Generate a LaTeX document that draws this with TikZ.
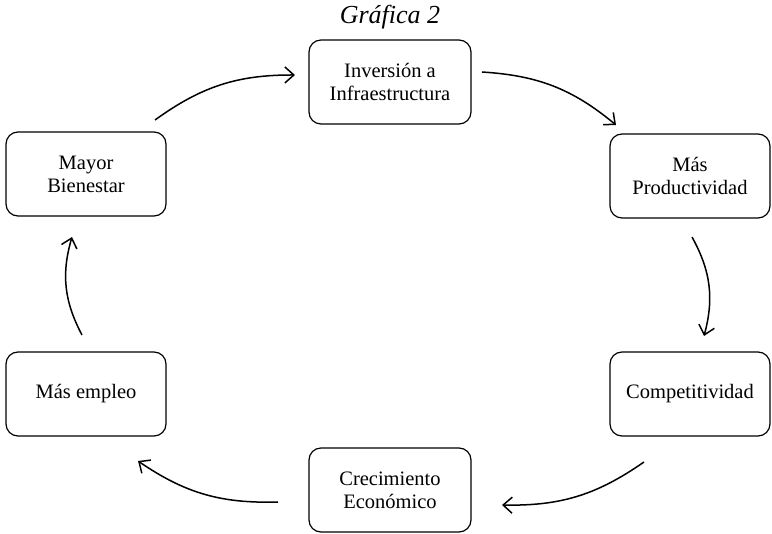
\documentclass[tikz,border=0pt]{standalone}
\usepackage{fontspec}
\setmainfont{Liberation Serif}
\usetikzlibrary{arrows.meta}
\begin{document}
\begin{tikzpicture}[x=1pt,y=-1pt,
  box/.style={draw,line width=1.2pt,rounded corners=12pt,minimum width=160pt,minimum height=84pt,align=center,inner sep=2pt,font=\fontsize{20.5}{23}\selectfont},
  conn/.style={line width=1.5pt,-{Straight Barb[length=9pt,width=16pt,line width=1.5pt]}}]
\useasboundingbox (0,0) rectangle (772,534);
\node[font=\fontsize{26}{28}\selectfont\itshape] (title) at (390,17) {Gráfica 2};
\node[box,minimum width=162pt] (inv) at (390,82) {Inversión a\\Infraestructura};
\node[box] (prod) at (690,176) {Más\\Productividad};
\node[box] (comp) at (690,394) {Competitividad};
\node[box,minimum width=162pt] (crec) at (390,490) {Crecimiento\\Económico};
\node[box] (emp) at (86,394) {Más empleo};
\node[box] (bien) at (86,174) {Mayor\\Bienestar};
\coordinate (a1) at (155,120); \coordinate (b1) at (295,75);
\coordinate (a2) at (482,72);  \coordinate (b2) at (616,125);
\coordinate (a3) at (692,237); \coordinate (b3) at (704,336);
\coordinate (a4) at (644,462); \coordinate (b4) at (502,505);
\coordinate (a5) at (278,502); \coordinate (b5) at (138,461);
\coordinate (a6) at (82,335);  \coordinate (b6) at (72,237);
\draw[conn] (a1) to[bend left=18] (b1);
\draw[conn] (a2) to[bend left=18] (b2);
\draw[conn] (a3) to[bend left=22] (b3);
\draw[conn] (a4) to[bend left=18] (b4);
\draw[conn] (a5) to[bend left=18] (b5);
\draw[conn] (a6) to[bend left=22] (b6);
\end{tikzpicture}
\end{document}
